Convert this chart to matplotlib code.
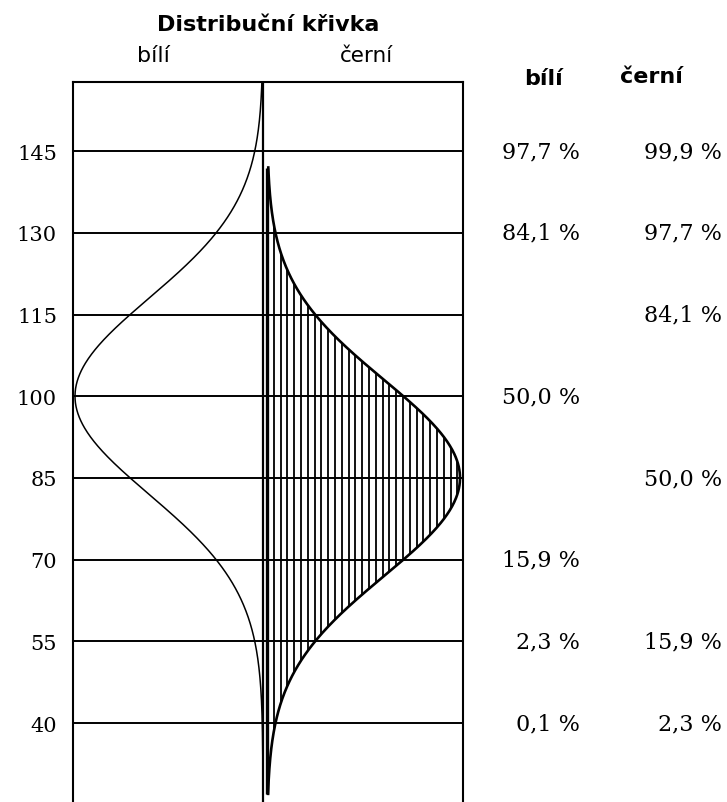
import numpy as np
import matplotlib
matplotlib.use("Agg")
import matplotlib.pyplot as plt

# -----------------------------------------------------
# data
# -----------------------------------------------------
levels = [40, 55, 70, 85, 100, 115, 130, 145]

bili_mean, bili_sd = 100, 18
cerni_mean, cerni_sd = 85, 18
cerni_range = [27, 142]          # where the hatched curve starts / ends

bili_pct_levels = [145, 130, 100, 70, 55, 40]
bili_pct_labels = ["97,7 %", "84,1 %", "50,0 %", "15,9 %", "2,3 %", "0,1 %"]

cerni_pct_levels = [145, 130, 115, 85, 55, 40]
cerni_pct_labels = ["99,9 %", "97,7 %", "84,1 %", "50,0 %", "15,9 %", "2,3 %"]

# -----------------------------------------------------
# layout (x axis is in pixels of the box, divider at 0)
# -----------------------------------------------------
W, H = 727, 803
box_left, box_right, box_top = 73, 463, 83
left_peak = 188       # width of white curve
right_base = 4        # hatched curve starts just right of the divider
right_peak = 193      # width of black curve
hatch_step = 6.8

fig = plt.figure(figsize=(W / 100, H / 100), dpi=100)
ax = fig.add_axes([box_left / W, 0, (box_right - box_left) / W, (H - box_top) / H])
ax.set_xlim(-(263 - box_left), box_right - 263)
ax.set_ylim(25.5, 157.7)

for s in ["left", "right", "top"]:
    ax.spines[s].set_linewidth(1.5)
ax.spines["bottom"].set_visible(False)

# horizontal level lines + divider
for lv in levels:
    ax.axhline(lv, color="black", lw=1.4)
ax.axvline(0, color="black", lw=1.6)

y = np.linspace(25.5, 157.7, 800)

# white curve (left, pointing left)
bili_x = -left_peak * np.exp(-0.5 * ((y - bili_mean) / bili_sd) ** 2)
ax.plot(bili_x, y, color="black", lw=1.1)

# black curve (right, hatched)
yc = np.linspace(cerni_range[0], cerni_range[1], 600)
cerni_x = right_base + right_peak * np.exp(-0.5 * ((yc - cerni_mean) / cerni_sd) ** 2)
patch = ax.fill_betweenx(yc, right_base, cerni_x, facecolor="none", edgecolor="none")
ax.plot(cerni_x, yc, color="black", lw=1.9)
ax.vlines(right_base, cerni_range[0], cerni_range[1], color="black", lw=2.4)
hx = np.arange(right_base + hatch_step, right_base + right_peak, hatch_step)
hl = ax.vlines(hx, cerni_range[0], cerni_range[1], color="black", lw=1.3)
hl.set_clip_path(patch.get_paths()[0], ax.transData)

# y tick labels
ax.set_xticks([])
ax.set_yticks(levels)
ax.set_yticklabels([str(v) for v in levels], fontfamily="DejaVu Serif", fontsize=15)
ax.tick_params(axis="y", length=0, pad=11.5)

# percentage columns
tr = ax.get_yaxis_transform()
for lv, lab in zip(bili_pct_levels, bili_pct_labels):
    ax.text((580 - box_left) / (box_right - box_left), lv, lab, transform=tr,
            ha="right", va="center", fontfamily="DejaVu Serif", fontsize=16)
for lv, lab in zip(cerni_pct_levels, cerni_pct_labels):
    ax.text((722 - box_left) / (box_right - box_left), lv, lab, transform=tr,
            ha="right", va="center", fontfamily="DejaVu Serif", fontsize=16)

# headers
fig.text(268 / W, 1 - 31 / H, "Distribuční křivka", ha="center", va="baseline",
         fontsize=16, fontweight="bold")
fig.text(153.5 / W, 1 - 62 / H, "bílí", ha="center", va="baseline", fontsize=16)
fig.text(366.5 / W, 1 - 62 / H, "černí", ha="center", va="baseline", fontsize=15.5)
fig.text(544 / W, 1 - 85 / H, "bílí", ha="center", va="baseline",
         fontsize=16, fontweight="bold")
fig.text(651 / W, 1 - 83 / H, "černí", ha="center", va="baseline",
         fontsize=16, fontweight="bold")

fig.savefig("out.png", dpi=100, facecolor="white")
